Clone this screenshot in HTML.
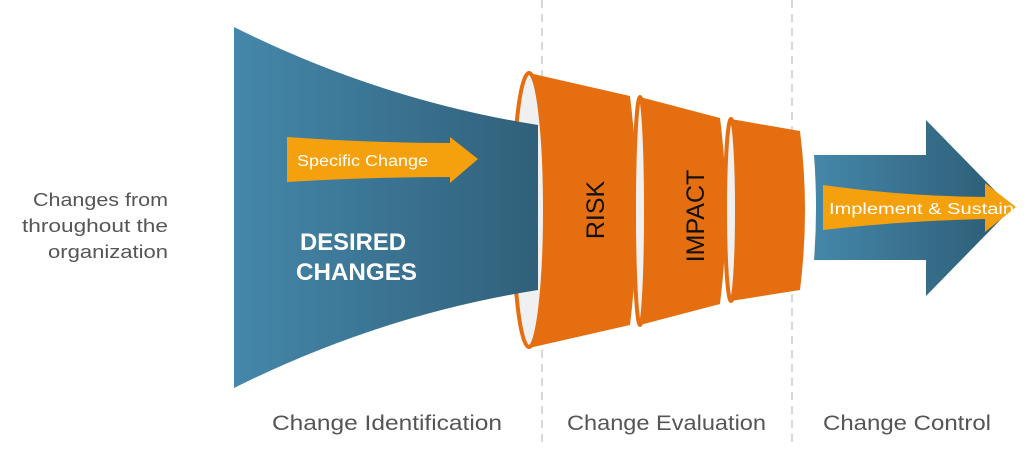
<!DOCTYPE html>
<html><head><meta charset="utf-8"><style>
html,body{margin:0;padding:0;background:#fff}
svg{display:block}
text{font-family:"Liberation Sans",sans-serif}
</style></head><body>
<svg width="1024" height="459" viewBox="0 0 1024 459" xmlns="http://www.w3.org/2000/svg">
<defs>
<linearGradient id="bg1" x1="0" x2="1" y1="0" y2="0">
<stop offset="0" stop-color="#4587aa"/><stop offset="1" stop-color="#30607a"/></linearGradient>
<linearGradient id="bg2" x1="0" x2="1" y1="0" y2="0">
<stop offset="0" stop-color="#4587aa"/><stop offset="1" stop-color="#2c5a72"/></linearGradient>
</defs>
<line x1="542" y1="0" x2="542" y2="445" stroke="#ccc" stroke-width="1.5" stroke-dasharray="8,6"/>
<line x1="792" y1="0" x2="792" y2="445" stroke="#ccc" stroke-width="1.5" stroke-dasharray="8,6"/>

<ellipse cx="529" cy="210" rx="16" ry="137" fill="#f0f0f0" stroke="#e56f10" stroke-width="4"/>
<path d="M234,27 Q380,100 538,125 L538,290 Q380,315 234,388 Z" fill="url(#bg1)"/>
<path d="M529,73 L630,96 Q644,210 630,325 L529,348 A16,137 0 0 0 529,73 Z" fill="#e56f10"/>
<ellipse cx="640" cy="211" rx="6" ry="114" fill="#f0f0f0" stroke="#e56f10" stroke-width="4"/>
<path d="M640,97 L720,118 Q732,210 720,304 L640,325 A6,114 0 0 0 640,97 Z" fill="#e56f10"/>
<ellipse cx="731" cy="210" rx="6" ry="91" fill="#f0f0f0" stroke="#e56f10" stroke-width="4"/>
<path d="M731,119 L800,131 Q810,210 800,290 L731,301 A6,91 0 0 0 731,119 Z" fill="#e56f10"/>

<text transform="translate(604,210) rotate(-90)" text-anchor="middle" font-size="25" fill="#111">RISK</text>
<text transform="translate(704,216) rotate(-90)" text-anchor="middle" font-size="25" fill="#111">IMPACT</text>

<path d="M287,137 Q370,143 450,143 L450,137 L478,159 L450,183 L450,177 Q370,177 287,182 Z" fill="#f5a10e"/>
<text x="297" y="166" font-size="15.5" fill="#fff" textLength="131" lengthAdjust="spacingAndGlyphs">Specific Change</text>
<text x="300" y="250" font-size="24" font-weight="bold" fill="#fff" textLength="106" lengthAdjust="spacingAndGlyphs">DESIRED</text>
<text x="296" y="280" font-size="24" font-weight="bold" fill="#fff" textLength="121" lengthAdjust="spacingAndGlyphs">CHANGES</text>

<path d="M814,155 L926,155 L926,120 L1012,208 L926,296 L926,260 L814,260 Q818,208 814,155 Z" fill="url(#bg2)"/>
<path d="M823,185 Q900,196 985,197 L985,183 L1016,207 L985,232 L985,219 Q900,221 823,230 Z" fill="#f5a10e"/>
<text x="829" y="214" font-size="15.5" fill="#fff" textLength="185" lengthAdjust="spacingAndGlyphs">Implement &amp; Sustain</text>

<g font-size="18" fill="#555">
<text x="33" y="206" textLength="135" lengthAdjust="spacingAndGlyphs">Changes from</text>
<text x="22" y="232" textLength="146" lengthAdjust="spacingAndGlyphs">throughout the</text>
<text x="48" y="258" textLength="120" lengthAdjust="spacingAndGlyphs">organization</text>
</g>
<g font-size="21" fill="#555">
<text x="272" y="430" textLength="230" lengthAdjust="spacingAndGlyphs">Change Identification</text>
<text x="567" y="430" textLength="199" lengthAdjust="spacingAndGlyphs">Change Evaluation</text>
<text x="823" y="430" textLength="168" lengthAdjust="spacingAndGlyphs">Change Control</text>
</g>
</svg>
</body></html>
